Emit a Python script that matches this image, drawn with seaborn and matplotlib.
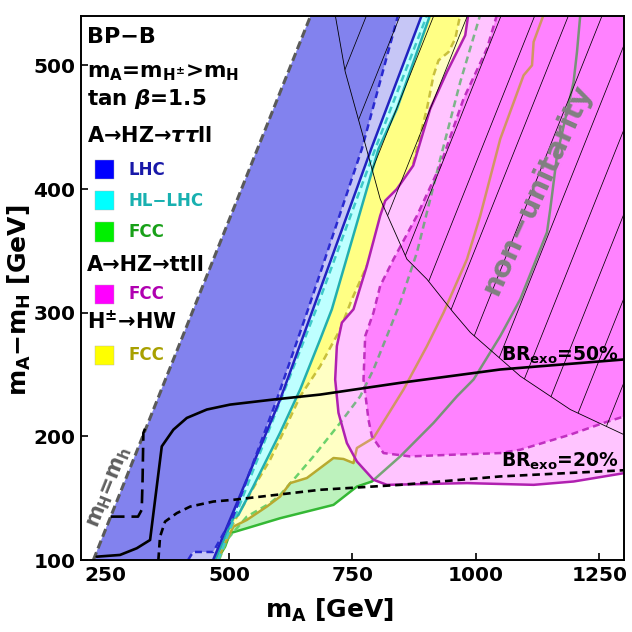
import numpy as np
import matplotlib
matplotlib.use("Agg")
import matplotlib.pyplot as plt
import seaborn as sns
from matplotlib.patches import Polygon, Rectangle

# ---------------- data (m_A [GeV], m_A - m_H [GeV]) ----------------
mh_mA = [225.0, 666.0]
mh_dm = [100.0, 541.0]

lhc_solid_mA = [467.6, 603.4, 670.0, 787.9, 890.7]
lhc_solid_dm = [100.0, 229.8, 302.8, 432.5, 541.0]
lhc_dash_mA = [416.9, 427.0, 467.6, 508.0, 596.7, 660.0, 769.0, 842.6]
lhc_dash_dm = [100.0, 106.5, 106.5, 134.9, 229.8, 302.8, 432.5, 541.0]

hl_solid_mA = [471.6, 508.7, 518.9, 548.7, 603.4, 644.0, 684.5, 708.2, 802.7, 840.0, 907.5]
hl_solid_dm = [100.0, 133.8, 136.5, 159.2, 203.0, 237.9, 278.4, 302.8, 432.5, 465.0, 541.0]
hl_dash_mA = [477.7, 676.4, 796.0, 901.4]
hl_dash_dm = [100.0, 302.8, 432.5, 541.0]

tau_solid_mA = [475.7, 491.9, 502.0, 535.9, 603.4, 711.5, 758.9, 789.3, 846.7, 914.2, 961.6,
                995.3, 1049.4, 1089.9, 1144.0, 1150.7, 1164.3, 1197.9, 1204.8, 1211.5]
tau_solid_dm = [100.0, 110.8, 121.7, 125.7, 133.8, 144.6, 159.4, 163.5, 183.8, 210.9, 232.4,
                246.0, 281.1, 310.9, 365.0, 383.9, 427.1, 486.6, 510.9, 541.0]
tau_dash_mA = [479.7, 495.4, 535.9, 583.1, 603.4, 630.4, 670.9, 725.0, 765.6, 792.5, 819.7,
               846.7, 880.5, 927.8, 968.3, 1008.8]
tau_dash_dm = [100.0, 116.2, 135.1, 146.0, 152.7, 164.9, 183.8, 210.9, 232.4, 254.1, 281.1,
               308.2, 348.7, 424.4, 486.6, 541.0]

hw_solid_mA = [477.7, 488.5, 508.7, 535.9, 576.4, 603.4, 623.7, 657.5, 711.5, 731.7, 752.0,
               758.9, 792.5, 853.4, 900.8, 934.5, 981.9, 1008.8, 1049.4, 1096.6, 1113.7,
               1116.9, 1137.2]
hw_solid_dm = [100.0, 110.8, 127.0, 132.4, 143.2, 151.3, 162.2, 166.3, 182.5, 181.7, 178.4,
               190.6, 198.7, 237.9, 273.0, 300.1, 343.3, 378.4, 440.6, 492.0, 500.1,
               519.0, 541.0]
hw_dash_mA = [473.7, 512.2, 552.7, 583.1, 609.5, 644.0, 684.5, 725.0, 748.8, 779.1, 826.4,
              866.9, 900.8, 914.2, 924.3, 944.6, 958.2, 968.3]
hw_dash_dm = [100.0, 132.4, 160.8, 181.1, 203.0, 232.4, 256.8, 286.5, 310.9, 337.9, 365.0,
              410.6, 465.0, 492.0, 504.1, 510.9, 521.7, 541.0]

tt_solid_mA = [984.5, 978.4, 968.3, 941.3, 907.5, 873.0, 840.0, 816.3, 806.1, 779.1, 752.0,
               728.5, 718.3, 714.9, 721.6, 738.6, 758.9, 792.5, 819.7, 981.9, 1116.9,
               1198.0, 1300.8]
tt_solid_dm = [541.0, 524.4, 516.3, 494.7, 465.0, 419.0, 400.1, 390.6, 378.4, 337.9, 302.8,
               292.0, 273.0, 246.0, 219.0, 194.6, 179.7, 164.9, 160.8, 162.2, 160.8,
               163.5, 170.3]
tt_dash_mA = [1042.7, 1022.4, 975.0, 927.8, 880.5, 833.1, 806.1, 792.5, 775.7, 772.3, 782.4,
              789.3, 812.8, 866.9, 954.7, 1049.4, 1089.9, 1191.3, 1258.8, 1300.8]
tt_dash_dm = [541.0, 513.6, 473.1, 419.0, 378.4, 343.3, 321.7, 300.1, 281.1, 246.0, 213.5,
              200.0, 186.5, 183.8, 185.2, 186.5, 189.2, 201.4, 210.9, 216.2]

br50_mA = [231.8, 279.0, 312.9, 339.9, 363.6, 387.1, 414.3, 454.8, 502.0, 589.8, 684.5,
           846.7, 1049.4, 1300.0]
br50_dm = [102.7, 104.1, 109.5, 116.2, 191.9, 205.4, 214.9, 221.7, 225.7, 229.8, 233.8,
           243.3, 254.1, 262.2]
br20_mA = [356.7, 360.1, 370.3, 394.0, 421.0, 468.2, 508.7, 684.5, 846.7, 1049.4, 1300.0]
br20_dm = [100.0, 118.9, 131.1, 137.9, 143.2, 147.3, 148.7, 156.8, 160.8, 167.6, 172.6]
brx_mA = [260.0, 315.5, 323.0, 324.7, 326.3, 329.7]
brx_dm = [135.1, 135.1, 140.6, 164.9, 202.8, 206.2]

unit_mA = [714.9, 735.2, 769.0, 806.1, 860.3, 900.8, 954.1, 988.6, 1089.9, 1191.3, 1300.0]
unit_dm = [541.0, 495.0, 446.3, 392.0, 343.3, 327.1, 300.3, 284.1, 248.7, 221.7, 201.4]

xticks = [250, 500, 750, 1000, 1250]
yticks = [100, 200, 300, 400, 500]

# ---------------- style ----------------
sns.set_theme(style="white")
plt.rcParams.update({
    "font.family": ["DejaVu Sans"],
    "font.weight": "bold",
    "text.color": "black",
    "axes.labelcolor": "black",
    "xtick.color": "black",
    "ytick.color": "black",
    "mathtext.fontset": "custom",
    "mathtext.rm": "DejaVu Sans:bold",
    "mathtext.bf": "DejaVu Sans:bold",
    "mathtext.sf": "DejaVu Sans:bold",
    "mathtext.it": "DejaVu Sans:italic:bold",
    "mathtext.default": "bf",
    "lines.scale_dashes": False,
})

fig = plt.figure(figsize=(6.32, 6.32), dpi=100)
ax = fig.add_axes([0.1282, 0.1139, 0.8591, 0.8608])
ax.set_xlim(200, 1300)
ax.set_ylim(100, 540)

TOPX, BIG = 1330.0, 580.0


def region(bx, by, color, z):
    xs = list(bx) + [mh_mA[1], mh_mA[0]]
    ys = list(by) + [mh_dm[1], mh_dm[0]]
    ax.fill(xs, ys, color=color, lw=0, zorder=z)


def line(x, y, color, lw=1.8, dashes=None, z=3, clip=None, alpha=1.0):
    sns.lineplot(x=x, y=y, sort=False, estimator=None, color=color, linewidth=lw,
                 ax=ax, legend=False, zorder=z, alpha=alpha)
    ln = ax.lines[-1]
    if dashes is not None:
        ln.set_dashes(dashes)
    if clip is not None:
        ln.set_clip_path(clip)
    return ln


# lower-layer fills
region(tau_solid_mA, tau_solid_dm, "#BDF2BD", 1.0)
region(hw_solid_mA, hw_solid_dm, "#FFFFC4", 1.1)
region(hw_dash_mA, hw_dash_dm, "#FFFF84", 1.2)
region(hl_solid_mA, hl_solid_dm, "#BEFFFF", 1.3)
region(lhc_solid_mA, lhc_solid_dm, "#C6C6F6", 1.4)
region(lhc_dash_mA, lhc_dash_dm, "#8282EE", 1.5)

# magenta (A->HZ->ttll FCC) fills
tt_out = list(zip(tt_solid_mA, tt_solid_dm)) + [(TOPX, tt_solid_dm[-1]), (TOPX, BIG), (tt_solid_mA[0], BIG)]
tt_in = list(zip(tt_dash_mA, tt_dash_dm)) + [(TOPX, tt_dash_dm[-1]), (TOPX, BIG), (tt_dash_mA[0], BIG)]
ax.add_patch(Polygon(tt_out, closed=True, color="#FFC4FF", lw=0, zorder=2.0))
ax.add_patch(Polygon(tt_in, closed=True, color="#FF82FF", lw=0, zorder=2.1))
clip_tt = Polygon(tt_out, closed=True, transform=ax.transData)

# lower-layer lines
d_short = (5.0, 3.2)
line(tau_solid_mA, tau_solid_dm, "#34B834", z=1.8)
line(tau_dash_mA, tau_dash_dm, "#6CD26C", dashes=d_short, z=1.8)
line(hw_solid_mA, hw_solid_dm, "#B8AA30", z=1.85)
line(hw_dash_mA, hw_dash_dm, "#C8C03C", dashes=d_short, z=1.85)
line(hl_solid_mA, hl_solid_dm, "#22AFAF", z=1.9)
line(hl_dash_mA, hl_dash_dm, "#40CACA", dashes=d_short, z=1.9)
line(lhc_solid_mA, lhc_solid_dm, "#2222C0", z=1.95)
line(lhc_dash_mA, lhc_dash_dm, "#2A2AD0", dashes=d_short, z=1.95)

# the same lines seen through the magenta region
line(tau_solid_mA, tau_solid_dm, "#4A9A4A", z=2.5, clip=clip_tt, alpha=0.75)
line(tau_dash_mA, tau_dash_dm, "#50B060", dashes=d_short, z=2.5, clip=clip_tt, alpha=0.75)
line(hw_solid_mA, hw_solid_dm, "#C89A48", z=2.5, clip=clip_tt, alpha=0.85)

# magenta lines
line(tt_solid_mA, tt_solid_dm, "#B020B0", z=2.8)
line(tt_dash_mA, tt_dash_dm, "#C030C0", dashes=d_short, z=2.8)

# unitarity boundary and hatching
line(unit_mA, unit_dm, "black", lw=0.6, z=4)
clip_u = Polygon(list(zip(unit_mA, unit_dm)) + [(TOPX, unit_dm[-1]), (TOPX, BIG), (unit_mA[0], BIG)],
                 closed=True, transform=ax.transData)
hatch_spacing = 68.2
for c in np.arange(238.0, 1200.0, hatch_spacing):
    ln, = ax.plot([c + 60, c + 600], [60, 600], color="black", lw=0.55, zorder=4)
    ln.set_clip_path(clip_u)

# m_H = m_h boundary
line(mh_mA, mh_dm, "#5A5A5A", lw=2.2, dashes=(6.0, 3.0), z=5)

# BR_exo contours
line(br50_mA, br50_dm, "black", lw=1.9, z=5)
line(br20_mA, br20_dm, "black", lw=1.9, dashes=(5.5, 3.5), z=5)
line(brx_mA, brx_dm, "black", lw=1.9, dashes=(10.0, 5.0), z=5)

# ---------------- axes ----------------
ax.set_xticks(xticks)
ax.set_yticks(yticks)
ax.set_xticklabels([str(v) for v in xticks])
ax.set_yticklabels([str(v) for v in yticks])
ax.tick_params(direction="in", length=5, width=1.2, labelsize=14.5, colors="black",
               bottom=True, left=True, top=False, right=False, pad=4)
for lab in ax.get_xticklabels() + ax.get_yticklabels():
    lab.set_fontweight("bold")
for s in ax.spines.values():
    s.set_color("black")
    s.set_linewidth(1.4)
    s.set_zorder(10)

ax.set_xlabel(r"m$_A$ [GeV]", fontsize=18, fontweight="bold", va="top", color="black")
ax.xaxis.set_label_coords((329 - 81) / 543, -(597 - 560) / 544)
ax.set_ylabel(r"m$_A$−m$_H$ [GeV]", fontsize=18, fontweight="bold", va="bottom", color="black")
ax.yaxis.set_label_coords(-(81 - 33) / 543, (560 - 300) / 544)


def afx(px):
    return (px - 81) / 543


def afy(py):
    return (560 - py) / 544


tk = dict(transform=ax.transAxes, ha="left", va="center", fontweight="bold", zorder=8)
ax.text(afx(87), afy(37), "BP−B", fontsize=16, color="black", **tk)
ax.text(afx(87), afy(73), r"m$_A$=m$_{H^{\pm}}$>m$_H$", fontsize=15.5, color="black", **tk)
ax.text(afx(87), afy(99), r"tan $\mathit{\beta}$=1.5", fontsize=15.5, color="black", **tk)
ax.text(afx(87), afy(136), r"A→HZ→$\mathit{\tau\tau}$ll", fontsize=15, color="black", **tk)
ax.text(afx(87), afy(265), "A→HZ→ttll", fontsize=15, color="black", **tk)
ax.text(afx(87), afy(321), r"H$^{\pm}$→HW", fontsize=15, color="black", **tk)

legend_names = ["LHC", "HL−LHC", "FCC", "FCC", "FCC"]
legend_box = ["#0000FF", "#00FFFF", "#00F000", "#FF00FF", "#FFFF00"]
legend_txt = ["#1818A8", "#18B0B0", "#18A018", "#B000B0", "#A8A000"]
legend_y = [170, 201, 232, 294, 355]
for name, cb, ct, yy in zip(legend_names, legend_box, legend_txt, legend_y):
    ax.add_patch(Rectangle((afx(95), afy(yy + 9.5)), 19 / 543, 19 / 544, transform=ax.transAxes,
                           facecolor=cb, edgecolor="#B0B0B0", lw=0.3, zorder=8))
    ax.text(afx(128), afy(yy), name, fontsize=12, color=ct, **tk)

ax.text(258.8, 158.4, r"m$_H$=m$_h$", fontsize=15, color="#5F5F5F", rotation=68.2,
        ha="center", va="center", rotation_mode="anchor", zorder=8)
ax.text(1123.8, 400.0, "non−unitarity", fontsize=21, color="#808080", rotation=65.5,
        ha="center", va="center", rotation_mode="anchor", zorder=8)
ax.text(1290, 261.0, r"BR$_{exo}$=50%", fontsize=13.5, color="black", ha="right", va="baseline", zorder=8)
ax.text(1290, 175.7, r"BR$_{exo}$=20%", fontsize=13.5, color="black", ha="right", va="baseline", zorder=8)

fig.savefig("out.png", dpi=100)
